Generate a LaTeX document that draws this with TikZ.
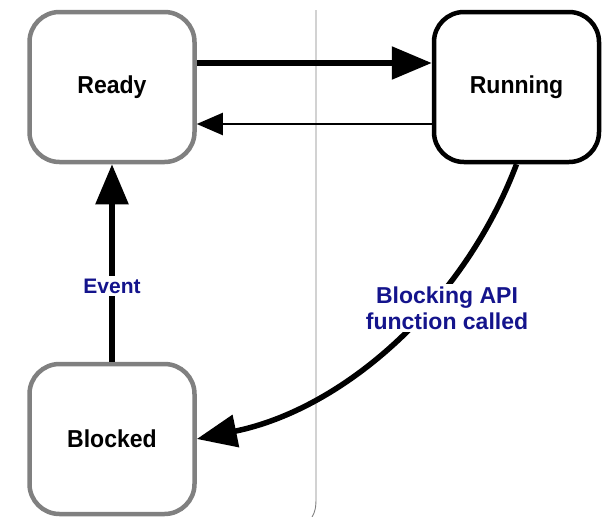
\documentclass[tikz,border=0pt]{standalone}
\usepackage{fontspec}
\setmainfont{Liberation Sans}
\newfontfamily\statefont[FakeStretch=0.94]{Liberation Sans}
\usetikzlibrary{arrows.meta}
\definecolor{edgegray}{HTML}{808080}
\definecolor{labelblue}{HTML}{14148C}
\tikzset{
  state/.style={rounded corners=30pt, minimum width=165pt, minimum height=150pt,
    line width=4.5pt, fill=white, font=\statefont\bfseries\fontsize{24.5}{28}\selectfont},
  idlestate/.style={state, draw=edgegray},
  activestate/.style={state, draw=black},
  heavy/.style={line width=5.5pt, -{Triangle[length=40pt,width=32pt]}},
  light/.style={line width=2pt, -{Triangle[length=26pt,width=22pt]}},
  tag/.style={fill=white, text=labelblue, align=center, inner sep=3pt,
    font=\bfseries\fontsize{21}{25}\selectfont},
}
\begin{document}
\begin{tikzpicture}[x=1pt, y=-1pt]
  \useasboundingbox (0,0) rectangle (603,517);

  % divider between the two halves
  \draw[edgegray, line width=0.9pt] (316,10) -- (316,498) .. controls (316,508) and (315,512) .. (312,517);

  % states
  \node[idlestate]   (ready)   at (112,87)   {Ready};
  \node[activestate] (running) at (516.5,87) {Running};
  \node[idlestate]   (blocked) at (112,439)  {Blocked};

  % transitions
  \draw[heavy] ([yshift=24pt]ready.east) -- ([yshift=24pt]running.west);
  \draw[light] ([yshift=-37pt]running.west) -- ([yshift=-37pt]ready.east);
  \draw[heavy] (blocked.north) -- (ready.south);
  \draw[heavy] (running.south) .. controls (464,303) and (344,409) .. (blocked.east);

  % transition labels
  \node[tag] (evt) at (112,286) {Event};
  \node[tag, font=\bfseries\fontsize{23}{26}\selectfont] (blk) at (447,308) {Blocking API\\function called};
\end{tikzpicture}
\end{document}
